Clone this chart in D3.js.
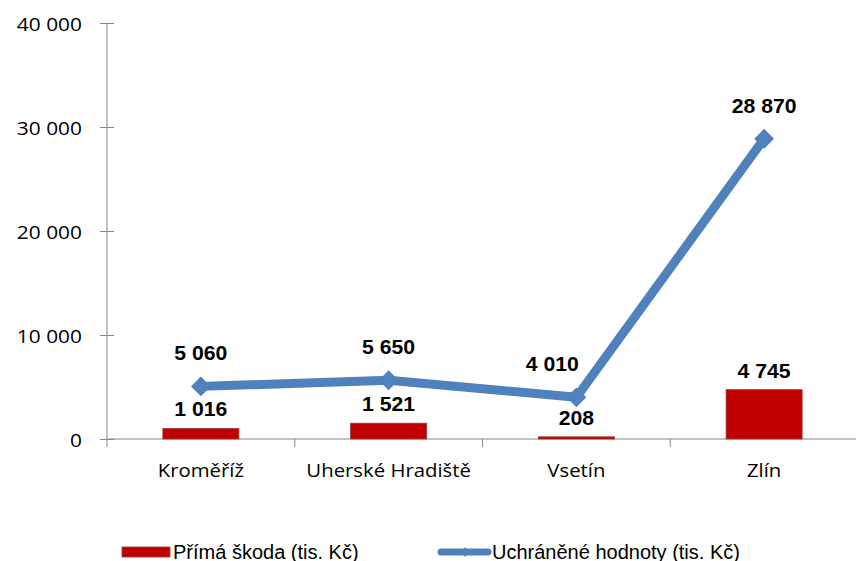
<!DOCTYPE html>
<html><head><meta charset="utf-8">
<script src="https://cdn.jsdelivr.net/npm/d3@7"></script>
<style>body{margin:0;background:#fff}svg{display:block}</style>
</head><body>
<svg id="c" width="856" height="561"></svg>
<script>
const categories = ["Kroměříž", "Uherské Hradiště", "Vsetín", "Zlín"];
const damage = [1016, 1521, 208, 4745];
const saved = [5060, 5650, 4010, 28870];
const yTicks = [0, 10000, 20000, 30000, 40000];
const seriesNames = ["Přímá škoda (tis. Kč)", "Uchráněné hodnoty (tis. Kč)"];

const svg = d3.select("#c");
const x = d3.scaleBand().domain(categories).range([107, 858]);
const y = d3.scaleLinear().domain([0, 40000]).range([439, 23]);
const fmt = v => d3.format(",")(v).replace(/,/g, " ");
const axisColor = "#868686";
const catFont = "'Open Sans', 'Noto Sans', sans-serif";
const lblFont = "'Liberation Sans', Arial, sans-serif";

function stretch(sx) {
  return sel => sel.each(function () {
    const t = d3.select(this);
    const tx = +t.attr("x") || 0, ty = +t.attr("y") || 0;
    t.attr("x", 0).attr("y", 0)
     .attr("transform", `translate(${tx},${ty}) scale(${sx},1)`);
  });
}

// Y axis
const ya = svg.append("g").attr("transform", "translate(107,0)")
  .call(d3.axisLeft(y).tickValues(yTicks).tickSize(7).tickPadding(18).tickFormat(fmt));
ya.select(".domain").attr("stroke", axisColor).attr("d", `M0,${y(40000)}V${y(0) + 8}`);
ya.selectAll(".tick line").attr("stroke", axisColor).attr("x1", -7).attr("x2", 7);
ya.selectAll(".tick text").attr("font-family", catFont).attr("font-size", 18.5)
  .attr("fill", "#000").attr("dy", null).attr("dominant-baseline", "central").call(stretch(1.13));

// X axis
const xa = svg.append("g").attr("transform", `translate(0,${y(0)})`)
  .call(d3.axisBottom(x).tickSize(0).tickPadding(0));
xa.select(".domain").attr("stroke", axisColor).attr("d", `M107,0H858`);
xa.selectAll(".tick text").attr("font-family", catFont).attr("font-size", 18)
  .attr("fill", "#000").attr("dy", null).attr("y", 38).call(stretch(1.13));
const bounds = categories.map(c => x(c));
svg.append("g").selectAll("line").data(bounds.slice(1)).join("line")
  .attr("x1", d => d).attr("x2", d => d).attr("y1", y(0)).attr("y2", y(0) + 8)
  .attr("stroke", axisColor);

// Bars
const bw = x.bandwidth() * 0.405;
const cx = i => x(categories[i]) + x.bandwidth() / 2;
svg.append("g").selectAll("rect").data(damage).join("rect")
  .attr("x", (d, i) => cx(i) - bw / 2)
  .attr("y", d => y(d)).attr("width", bw).attr("height", d => y(0) - y(d))
  .attr("fill", "#C00000").attr("stroke", "#9e3a3a").attr("stroke-width", 0.8);

// Line
const line = d3.line().x((d, i) => cx(i)).y(d => y(d));
svg.append("path").datum(saved).attr("d", line).attr("fill", "none")
  .attr("stroke", "#4F81BD").attr("stroke-width", 9).attr("stroke-linejoin", "round");
const diamond = d3.symbol().type(d3.symbolDiamond2).size(250);
svg.append("g").selectAll("path").data(saved).join("path")
  .attr("d", diamond).attr("transform", (d, i) => `translate(${cx(i)},${y(d)})`)
  .attr("fill", "#4F81BD");

// Labels
svg.append("g").selectAll("text").data(damage).join("text")
  .attr("x", (d, i) => cx(i)).attr("y", d => y(d) - 12)
  .attr("text-anchor", "middle").attr("font-family", lblFont).attr("font-weight", "bold")
  .attr("font-size", 20).text(fmt).call(stretch(1.06));
const lineLblDx = [0, 0, -24, 0];
svg.append("g").selectAll("text").data(saved).join("text")
  .attr("x", (d, i) => cx(i) + lineLblDx[i]).attr("y", d => y(d) - 26)
  .attr("text-anchor", "middle").attr("font-family", lblFont).attr("font-weight", "bold")
  .attr("font-size", 20).text(fmt).call(stretch(1.06));

// Legend
const lg = svg.append("g").attr("font-family", lblFont).attr("font-size", 20);
lg.append("rect").attr("x", 122).attr("y", 547).attr("width", 48).attr("height", 10)
  .attr("fill", "#C00000").attr("stroke", "#9e3a3a").attr("stroke-width", 0.8);
lg.append("text").attr("x", 173).attr("y", 558.5).text(seriesNames[0]);
lg.append("line").attr("x1", 441).attr("x2", 488).attr("y1", 552).attr("y2", 552)
  .attr("stroke", "#4F81BD").attr("stroke-width", 7).attr("stroke-linecap", "round");
lg.append("path").attr("d", d3.symbol().type(d3.symbolDiamond2).size(60))
  .attr("transform", "translate(465,552)").attr("fill", "#4F81BD");
lg.append("text").attr("x", 492).attr("y", 558.5).text(seriesNames[1]);
</script>
</body></html>
